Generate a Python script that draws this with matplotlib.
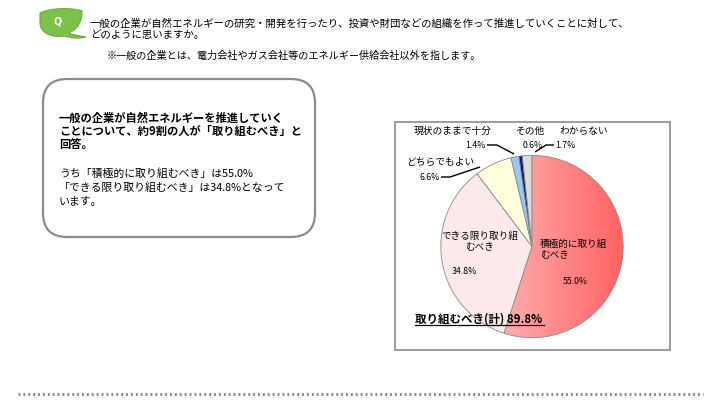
import numpy as np
import matplotlib
matplotlib.use('Agg')
import matplotlib.pyplot as plt
from matplotlib.patches import FancyBboxPatch, Rectangle, PathPatch
from matplotlib.path import Path

plt.rcParams['font.family'] = ['Noto Sans CJK JP', 'DejaVu Sans']

# answers, clockwise from 12 o'clock
answers = ["積極的に取り組むべき", "できる限り取り組むべき", "どちらでもよい",
           "現状のままで十分", "その他", "わからない"]
shares = [55.0, 34.8, 6.6, 1.4, 0.6, 1.7]
total_label = "取り組むべき(計) 89.8%"
colors = ["#ff7a7a", "#fde9e9", "#ffffdc", "#99c8f5", "#0a1a66", "#dcdcdc"]

question = ["一般の企業が自然エネルギーの研究・開発を行ったり、投資や財団などの組織を作って推進していくことに対して、",
            "どのように思いますか。"]
note = "※一般の企業とは、電力会社やガス会社等のエネルギー供給会社以外を指します。"
summary_bold = ["一般の企業が自然エネルギーを推進していく",
                "ことについて、約9割の人が「取り組むべき」と",
                "回答。"]
summary = ["うち「積極的に取り組むべき」は55.0%",
           "「できる限り取り組むべき」は34.8%となって",
           "います。"]

fig = plt.figure(figsize=(7.2, 4.1), dpi=100)

# pie axes (pixel geometry: centre 532,247, radius 93)
cx, cy, r = 532, 247.5, 93
pax = fig.add_axes([(cx - r) / 720, 1 - (cy + r) / 410, 2 * r / 720, 2 * r / 410])
wedges, _ = pax.pie(shares, colors=colors, startangle=90, counterclock=False,
                    wedgeprops=dict(edgecolor="#8a8a8a", linewidth=0.6))
pax.set_xlim(-1.02, 1.02)
pax.set_ylim(-1.02, 1.02)
pax.set_aspect('equal')
pax.axis('off')

# gradient on the main slice
grad = np.linspace(0, 1, 256).reshape(1, -1)
cmap = matplotlib.colors.LinearSegmentedColormap.from_list("rd", ["#ffb4b4", "#ff6262"])
im = pax.imshow(grad, extent=[-0.45, 1.0, -1.0, 1.0], cmap=cmap, aspect='auto', zorder=wedges[0].get_zorder() + 0.1)
im.set_clip_path(wedges[0])
wedges[0].set_facecolor("none")
wedges[0].set_zorder(im.get_zorder() + 0.1)

# overlay in pixel coordinates
ax = fig.add_axes([0, 0, 1, 1])
ax.set_xlim(0, 720)
ax.set_ylim(410, 0)
ax.axis('off')
ax.patch.set_alpha(0)

# leaf icon
verts = [(40, 14), (52, 8), (74, 9), (82, 12),
         (82, 22), (78, 31), (68, 34),
         (74, 36), (80, 37), (86, 38),
         (78, 40), (72, 39), (64, 37),
         (52, 39), (40, 34), (40, 24),
         (40, 14)]
codes = [Path.MOVETO, Path.CURVE4, Path.CURVE4, Path.CURVE4,
         Path.CURVE4, Path.CURVE4, Path.CURVE4,
         Path.CURVE4, Path.CURVE4, Path.CURVE4,
         Path.CURVE4, Path.CURVE4, Path.CURVE4,
         Path.CURVE4, Path.CURVE4, Path.CURVE4,
         Path.CLOSEPOLY]
ax.add_patch(PathPatch(Path(verts, codes), facecolor="#7cc24a", edgecolor="#6aae3c", lw=0.8))
ax.text(58, 21, "Q", color="white", fontsize=7, fontweight='bold', ha='center', va='center',
        family='DejaVu Sans')

ax.text(90, 24, question[0], fontsize=7.5, va='center', ha='left')
ax.text(90, 35, question[1], fontsize=7.5, va='center', ha='left')
ax.text(107, 56, note, fontsize=7.3, va='center', ha='left')

# summary box
ax.add_patch(FancyBboxPatch((43, 80), 272, 158, boxstyle="round,pad=0,rounding_size=24",
                            facecolor="white", edgecolor="#8c8c8c", lw=1.6))
for i, line in enumerate(summary_bold):
    ax.text(59, 118 + i * 13.5, line, fontsize=8.1, fontweight='bold', va='center', ha='left')
for i, line in enumerate(summary):
    ax.text(59, 174 + i * 14, line, fontsize=7.8, va='center', ha='left')

# chart frame
ax.add_patch(Rectangle((395, 123), 275, 228, facecolor='none', edgecolor="#8c8c8c", lw=1.2))

pct = [f"{v:.1f}%" for v in shares]

# inside labels
ax.text(540, 249, "積極的に取り組\nむべき", fontsize=6.9, ha='left', va='center', linespacing=1.2)
ax.text(575, 282, pct[0], fontsize=6.3, ha='center', va='center')
ax.text(480, 241, "できる限り取り組\nむべき", fontsize=6.9, ha='center', va='center', linespacing=1.2)
ax.text(464, 272, pct[1], fontsize=6.3, ha='center', va='center')

# outside labels
ax.text(453, 131, answers[3], fontsize=7, ha='center', va='center')
ax.text(530, 131, answers[4], fontsize=7, ha='center', va='center')
ax.text(584, 131, answers[5], fontsize=7, ha='center', va='center')
ax.text(440, 162, answers[2], fontsize=7, ha='center', va='center')

# leader lines
leaders = [([487, 497, 514], [146, 146, 155]),
           ([554, 546, 535], [146, 146, 153]),
           ([441, 450, 480], [178, 178, 168])]
for xs, ys in leaders:
    ax.plot(xs, ys, color='black', lw=1.0, zorder=10, solid_capstyle='butt')

ax.text(486, 146, pct[3], fontsize=6.3, ha='right', va='center')
ax.text(533, 146, pct[4], fontsize=6.3, ha='center', va='center')
ax.text(555, 146, pct[5], fontsize=6.3, ha='left', va='center')
ax.text(440, 178, pct[2], fontsize=6.3, ha='right', va='center')

# total
ax.text(415, 319, total_label, fontsize=8.3, fontweight='bold', ha='left', va='center')
ax.plot([415, 544], [325.5, 325.5], color='black', lw=0.9)

# dotted rule
ax.plot([18, 703], [395, 395], color="#8a8a8a", lw=2.2, linestyle=(0, (0.6, 1.0)))

fig.savefig("out.png", dpi=100)
